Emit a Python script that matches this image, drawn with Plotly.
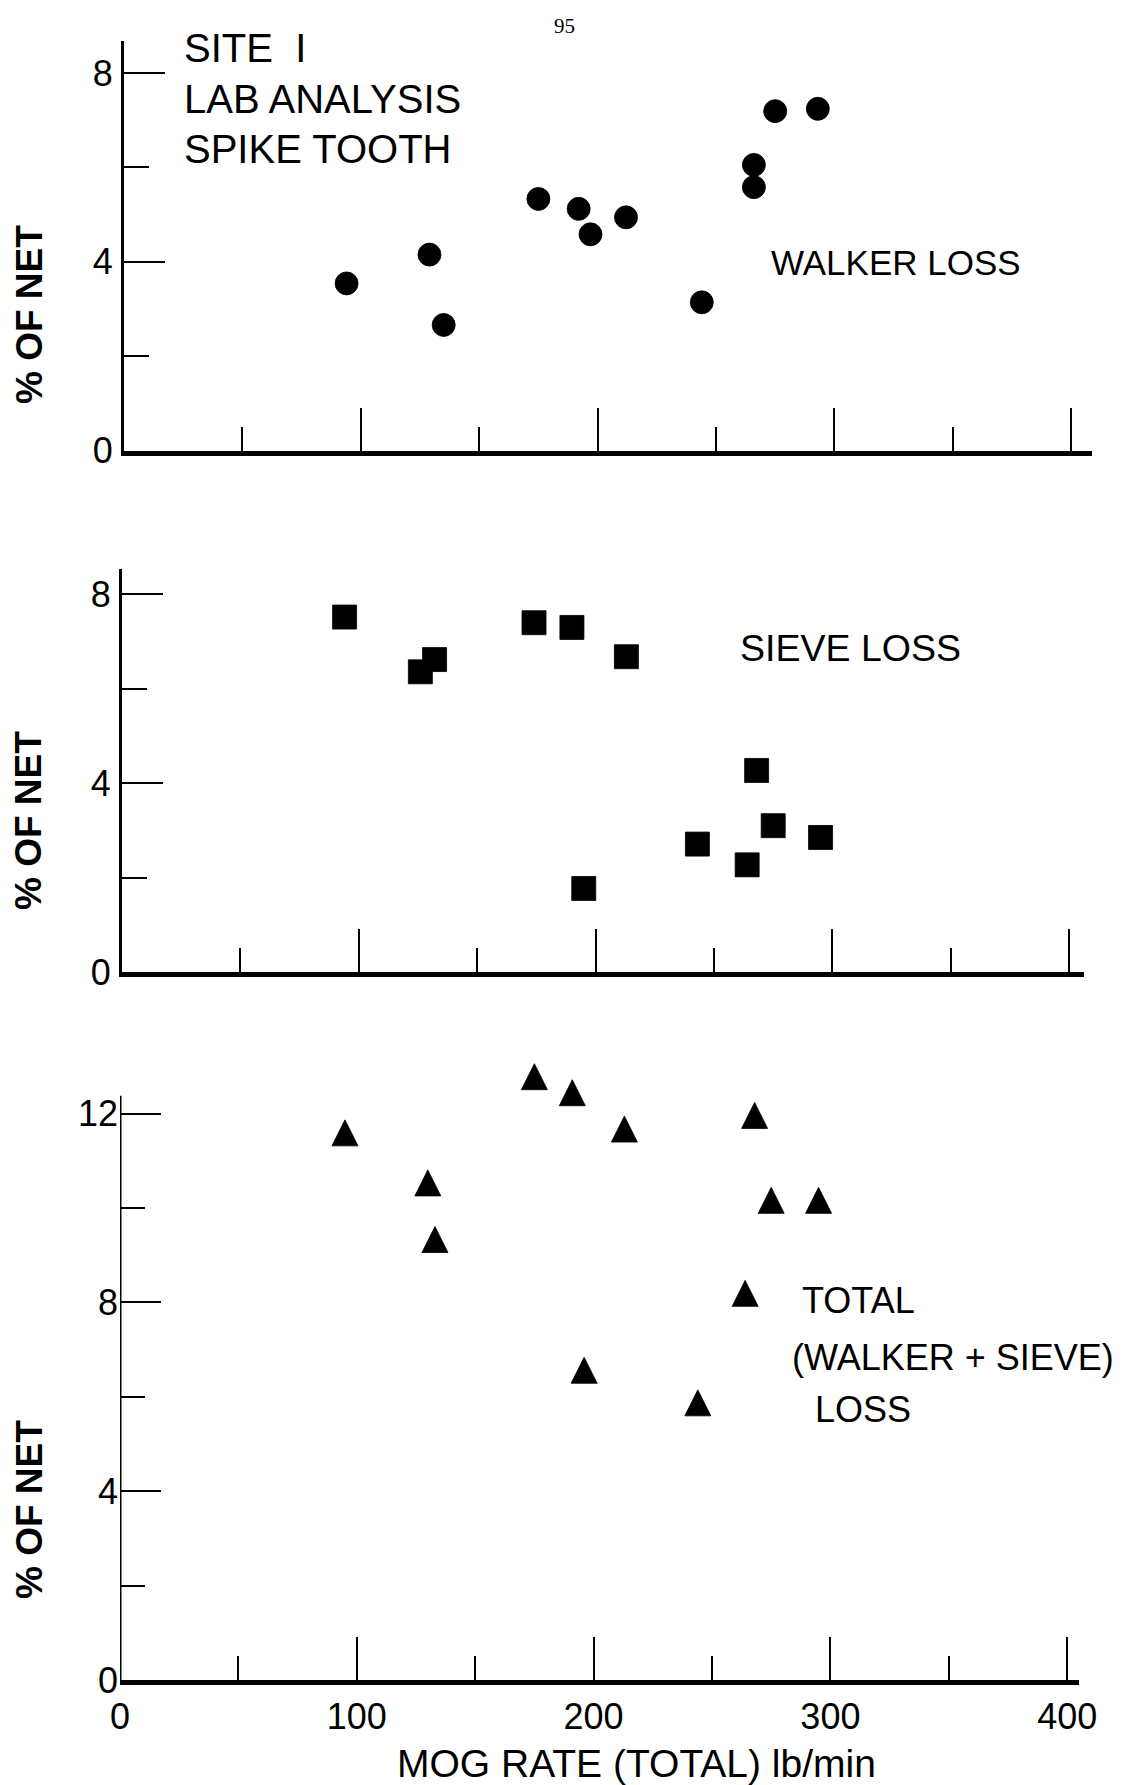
import plotly.graph_objects as go

W, H = 1147, 1785

# ---------------- data ----------------
walker_rate = [94, 129, 135, 175, 192, 197, 212, 244, 266, 266, 275, 293]
walker_loss = [3.54, 4.15, 2.66, 5.33, 5.12, 4.58, 4.94, 3.14, 6.05, 5.58, 7.19, 7.24]

sieve_rate = [94, 126, 132, 174, 190, 213, 195, 243, 264, 268, 275, 295]
sieve_loss = [7.52, 6.36, 6.62, 7.40, 7.30, 6.68, 1.77, 2.71, 2.27, 4.27, 3.10, 2.85]

total_rate = [95, 130, 133, 175, 191, 213, 268, 275, 295, 264, 196, 244]
total_loss = [11.50, 10.44, 9.24, 12.69, 12.35, 11.58, 11.87, 10.07, 10.07, 8.10, 6.47, 5.78]

x_ticks = [0, 100, 200, 300, 400]
y_ticks_small = [0, 4, 8]
y_ticks_total = [0, 4, 8, 12]

# ---------------- layout helpers ----------------
def fx(px):
    return px / W

def fy(py):
    return 1 - py / H

FONT = "Liberation Sans, Arial, Helvetica, sans-serif"
BLACK = "#000000"
PX_PER_X = 2.368   # px per lb/min
PX_PER_Y = 47.2    # px per % of net

# pixel geometry of each panel: left (x=0), axis right end, bottom (y=0), axis top
panels = [
    dict(l=124, r=1092, b=450.5, top_axis=8.67, ymax=8.67, yt=y_ticks_small, labels=False),
    dict(l=122, r=1084, b=972, top_axis=8.53, ymax=8.53, yt=y_ticks_small, labels=False),
    dict(l=120, r=1079, b=1680, top_axis=12.38, ymax=13.0, yt=y_ticks_total, labels=True),
]

fig = go.Figure()

TRI = 26
series = [
    (walker_rate, walker_loss, dict(symbol="circle", size=23)),
    (sieve_rate, sieve_loss, dict(symbol="square", size=24)),
    # upward triangle, centred on its centroid (arrow rotated, pulled back by 4r/3)
    (total_rate, total_loss, dict(symbol="arrow-down", size=TRI, angle=180, standoff=TRI * 2 / 3)),
]

layout = dict(
    width=W, height=H,
    margin=dict(l=0, r=0, t=0, b=0, autoexpand=False),
    paper_bgcolor="white", plot_bgcolor="white",
    showlegend=False,
    font=dict(family=FONT, color=BLACK),
)

shapes = []

for i, (p, (xs, ys, mk)) in enumerate(zip(panels, series), start=1):
    xa = "x" if i == 1 else f"x{i}"
    ya = "y" if i == 1 else f"y{i}"
    fig.add_trace(go.Scatter(
        x=xs, y=ys, mode="markers", xaxis=xa, yaxis=ya,
        marker=dict(color=BLACK, line=dict(width=0.8, color=BLACK), **mk),
        cliponaxis=False, hoverinfo="skip",
    ))
    xmax = (p["r"] - p["l"]) / PX_PER_X
    top_px = p["b"] - p["ymax"] * PX_PER_Y
    xkey = "xaxis" if i == 1 else f"xaxis{i}"
    ykey = "yaxis" if i == 1 else f"yaxis{i}"
    layout[xkey] = dict(
        domain=[fx(p["l"]), fx(p["r"])], anchor=ya,
        range=[0, xmax], showgrid=False, zeroline=False,
        showline=True, linecolor=BLACK, linewidth=4.5,
        ticks="inside", tickvals=x_ticks, ticklen=43, tickwidth=2.2, tickcolor=BLACK,
        minor=dict(ticks="inside", dtick=50, tick0=0, ticklen=24, tickwidth=2.2,
                   tickcolor=BLACK, showgrid=False),
        showticklabels=p["labels"],
        tickfont=dict(family=FONT, size=36, color=BLACK),
        ticklabelstandoff=1,
    )
    own_line = p["top_axis"] >= p["ymax"]
    layout[ykey] = dict(
        domain=[fy(p["b"]), fy(top_px)], anchor=xa,
        range=[0, p["ymax"]], showgrid=False, zeroline=False,
        showline=own_line, linecolor=BLACK, linewidth=3,
        ticks="inside", tickvals=p["yt"], ticklen=41, tickwidth=2.2, tickcolor=BLACK,
        minor=dict(ticks="inside", dtick=2, tick0=0, ticklen=25, tickwidth=2.2,
                   tickcolor=BLACK, showgrid=False),
        tickfont=dict(family=FONT, size=36, color=BLACK),
        ticklabelstandoff=1,
    )
    if not own_line:
        # axis line stops below the top of the plotting room (a point sits above it)
        shapes.append(dict(
            type="line", xref=xa, yref=ya, x0=0, x1=0, y0=0, y1=p["top_axis"],
            line=dict(color=BLACK, width=3), layer="above",
        ))

fig.update_layout(**layout)

ann = []

def text(px, py, s, size, xanchor="center", bold=False, angle=0, family=FONT):
    ann.append(dict(
        x=fx(px), y=fy(py), xref="paper", yref="paper", text=s,
        showarrow=False, xanchor=xanchor, yanchor="middle", textangle=angle,
        font=dict(family=family, size=size, color=BLACK,
                  weight="bold" if bold else "normal"),
    ))

# page number
text(564, 26, "95", 21, family="Liberation Serif, Times New Roman, serif")

# panel title block
text(182, 48, "SITE  I", 40, xanchor="left")
text(182, 99, "LAB ANALYSIS", 40, xanchor="left")
text(182, 149, "SPIKE TOOTH", 40, xanchor="left")

# series labels
text(896, 262, "WALKER LOSS", 35)
text(850, 648, "SIEVE LOSS", 37.5)
text(800, 1300, "TOTAL", 36, xanchor="left")
text(790, 1357, "(WALKER + SIEVE)", 36, xanchor="left")
text(813, 1409, "LOSS", 36, xanchor="left")

# y axis titles
for cy in (315, 821, 1510):
    text(29, cy, "% OF NET", 37, bold=True, angle=-90)

# x axis title
text(636, 1763, "MOG RATE (TOTAL) lb/min", 39)

fig.update_layout(annotations=ann, shapes=shapes)

fig.write_html(
    "out.html",
    config={"displayModeBar": False},
    post_script="document.body.style.margin='0';document.body.style.overflow='hidden';",
)
